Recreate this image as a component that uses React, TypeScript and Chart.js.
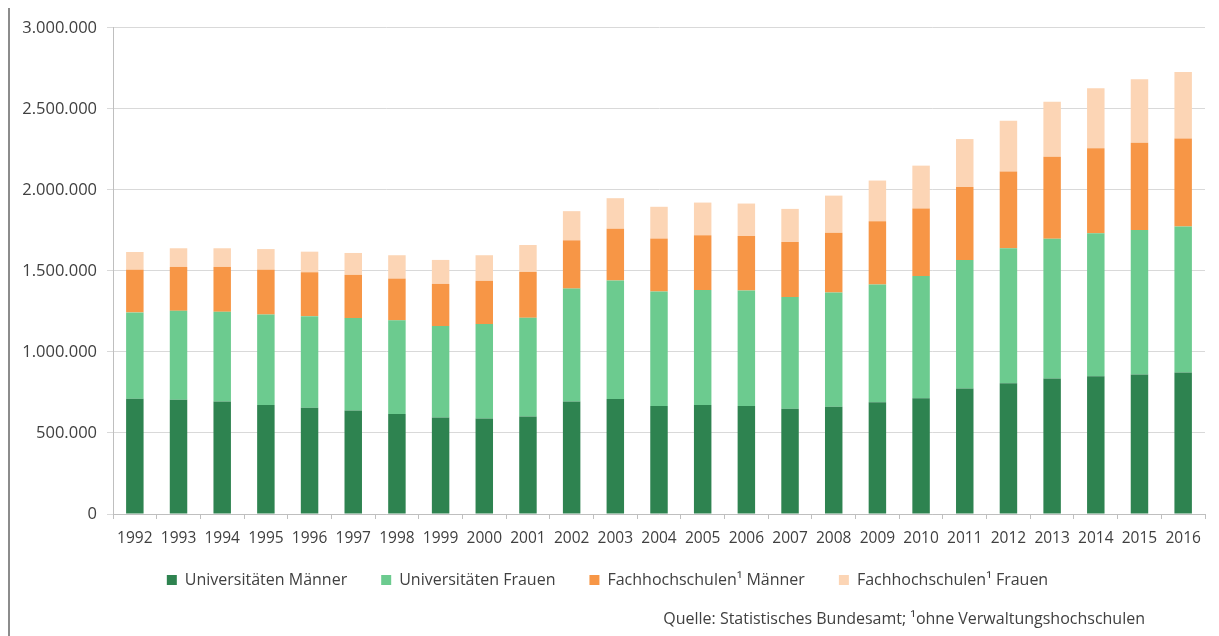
import React, { useEffect, useRef } from 'react';
import { Chart, registerables } from 'chart.js';

Chart.register(...registerables);

const years = [
  '1992', '1993', '1994', '1995', '1996', '1997', '1998', '1999', '2000', '2001',
  '2002', '2003', '2004', '2005', '2006', '2007', '2008', '2009', '2010', '2011',
  '2012', '2013', '2014', '2015', '2016',
];

const uniMaenner = [
  711000, 705000, 695000, 672000, 656000, 639000, 617000, 596000, 590000, 602000,
  695000, 709000, 666000, 672000, 666000, 650000, 662000, 689000, 715000, 775000,
  807000, 836000, 850000, 861000, 873000,
];

const uniFrauen = [
  533000, 549000, 553000, 559000, 565000, 570000, 578000, 564000, 582000, 609000,
  696000, 732000, 707000, 711000, 713000, 690000, 705000, 727000, 754000, 793000,
  833000, 863000, 882000, 891000, 902000,
];

const fhMaenner = [
  264000, 271000, 277000, 277000, 271000, 267000, 258000, 260000, 267000, 283000,
  298000, 319000, 328000, 338000, 336000, 338000, 369000, 391000, 416000, 450000,
  473000, 506000, 526000, 539000, 543000,
];

const fhFrauen = [
  109000, 115000, 115000, 127000, 127000, 135000, 144000, 148000, 158000, 166000,
  180000, 189000, 195000, 201000, 201000, 205000, 229000, 251000, 265000, 296000,
  314000, 340000, 369000, 392000, 410000,
];

const seriesLabels = [
  'Universitäten Männer',
  'Universitäten Frauen',
  'Fachhochschulen¹ Männer',
  'Fachhochschulen¹ Frauen',
];

const seriesColors = ['#2E8350', '#6CCB8F', '#F79646', '#FCD5B5'];

const yMin = 0;
const yMax = 3000000;
const yStep = 500000;

const sourceNote = 'Quelle: Statistisches Bundesamt; ¹ohne Verwaltungshochschulen';

const FONT = "'Open Sans', 'Liberation Sans', sans-serif";
const TEXT_COLOR = '#404040';

function formatDE(v: number): string {
  return String(Math.round(v)).replace(/\B(?=(\d{3})+(?!\d))/g, '.');
}

// moves the legend row up a little after layout (legend padding is also its item gap)
const legendShift = {
  id: 'legendShift',
  afterLayout(chart: any) {
    const lg = chart.legend;
    if (lg) {
      lg.top -= 16;
      lg.bottom -= 16;
    }
  },
};

export default function App() {
  const ref = useRef<HTMLCanvasElement | null>(null);

  useEffect(() => {
    if (!ref.current) return;
    const values = [uniMaenner, uniFrauen, fhMaenner, fhFrauen];
    const chart = new Chart(ref.current, {
      type: 'bar',
      data: {
        labels: years,
        datasets: values.map((d, i) => ({
          label: seriesLabels[i],
          data: d,
          backgroundColor: seriesColors[i],
          borderWidth: 0,
        })),
      },
      plugins: [legendShift],
      options: {
        animation: false,
        responsive: false,
        maintainAspectRatio: false,
        layout: { padding: { top: 18, right: 14, bottom: 22, left: 0 } },
        datasets: {
          bar: { categoryPercentage: 1, barPercentage: 0.4 },
        },
        scales: {
          x: {
            stacked: true,
            grid: {
              offset: true,
              drawOnChartArea: false,
              drawTicks: true,
              tickLength: 5,
              color: '#bfbfbf',
            },
            border: { color: '#bfbfbf' },
            ticks: {
              font: { family: FONT, size: 15.5 },
              color: TEXT_COLOR,
              padding: 10,
              maxRotation: 0,
              autoSkip: false,
            },
            afterFit: (s: any) => {
              s.height = 40;
            },
          },
          y: {
            stacked: true,
            min: yMin,
            max: yMax,
            ticks: {
              stepSize: yStep,
              font: { family: FONT, size: 16.5 },
              color: TEXT_COLOR,
              padding: 10,
              callback: (v: any) => formatDE(Number(v)),
            },
            grid: { color: '#d9d9d9', tickLength: 6 },
            border: { color: '#bfbfbf' },
            afterFit: (s: any) => {
              s.width = 103;
            },
          },
        },
        plugins: {
          legend: {
            position: 'bottom',
            labels: {
              boxWidth: 10,
              boxHeight: 10,
              padding: 34,
              font: { family: FONT, size: 16 },
              color: TEXT_COLOR,
            },
          },
          tooltip: { enabled: false },
        },
      },
    });
    return () => chart.destroy();
  }, []);

  return (
    <div
      style={{
        position: 'relative',
        marginTop: -2,
        width: 1209,
        height: 628,
        borderTop: '2px solid #8c8c8c',
        borderLeft: '2px solid #8c8c8c',
        background: '#fff',
      }}
    >
      <canvas ref={ref} width={1209} height={628} style={{ display: 'block' }} />
      <div
        style={{
          position: 'absolute',
          right: 1219 - 1145,
          top: 599,
          fontFamily: FONT,
          fontSize: 16,
          color: TEXT_COLOR,
          whiteSpace: 'nowrap',
        }}
      >
        {sourceNote}
      </div>
    </div>
  );
}
